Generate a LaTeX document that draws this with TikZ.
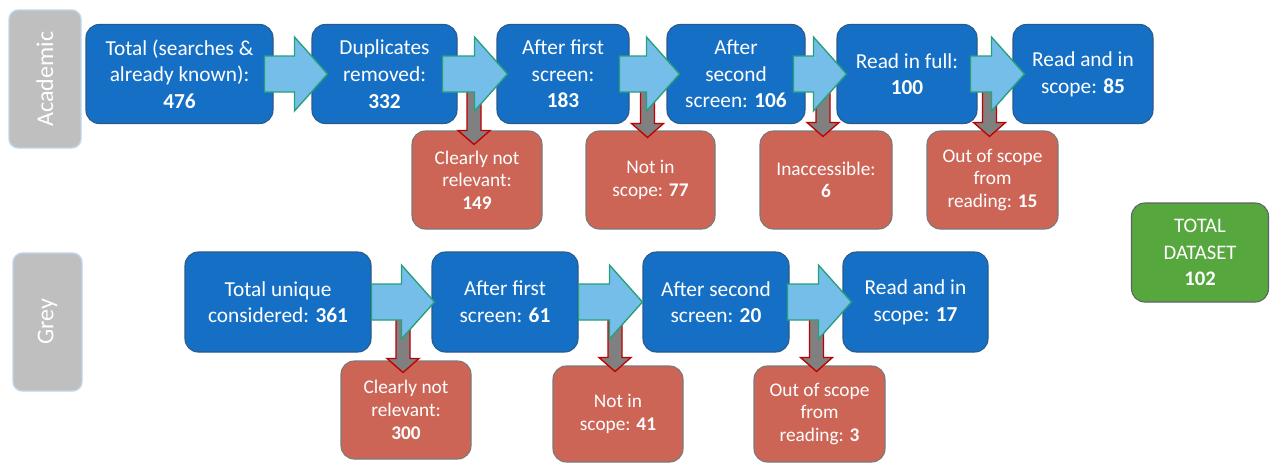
\documentclass[tikz,border=0pt]{standalone}
\usepackage{fontspec}
\setmainfont{Carlito}
\usepackage{xcolor}
\usepackage{tikz}
\usetikzlibrary{calc}
\definecolor{srblue}{HTML}{1570C5}
\definecolor{srnavy}{HTML}{2A5A8C}
\definecolor{srsky}{HTML}{75BEE9}
\definecolor{srteal}{HTML}{25A07A}
\definecolor{srred}{HTML}{CD6557}
\definecolor{srslate}{HTML}{7A7A7A}
\definecolor{srgray}{HTML}{808080}
\definecolor{srcrimson}{HTML}{C00000}
\definecolor{srgreen}{HTML}{56A73E}
\definecolor{srlabel}{HTML}{BFBFBF}
\definecolor{srpale}{HTML}{BDD7EE}
\tikzset{
  boxsize/.style 2 args={minimum width={#1*0.75pt},minimum height={#2*0.75pt}},
  stagebox/.style={rectangle,rounded corners=10pt,draw=srnavy,line width=0.8pt,
                   fill=srblue,text=white,align=center,inner sep=2pt,
                   font=\fontsize{16}{20}\selectfont},
  dropbox/.style={rectangle,rounded corners=10pt,draw=srslate,line width=0.8pt,
                  fill=srred,text=white,align=center,inner sep=2pt,
                  font=\fontsize{14.5}{17}\selectfont},
  totalbox/.style={rectangle,rounded corners=10pt,draw=srslate!80!black,line width=0.8pt,
                   fill=srgreen,text=white,align=center,inner sep=2pt,
                   font=\fontsize{15.5}{20}\selectfont},
  rowtag/.style={rectangle,rounded corners=7pt,draw=srpale,line width=1pt,
                 fill=srlabel,text=white,rotate=90,inner sep=2pt,
                 font=\fontsize{18}{20}\selectfont},
  passflow/.style={fill=srsky,draw=srteal,line width=1pt},
  dropflow/.style={fill=srgray,draw=srcrimson,line width=1pt},
}
% block arrow: from box, to box, shaft inset, tip overlap
\newcommand{\passarrow}[4]{%
  \coordinate (pass-s) at ($(#1.east)+(-#3,0)$);
  \coordinate (pass-t) at ($(#2.west)+(#4,0)$);
  \path[passflow] ($(pass-s)+(0,-18)$) -- ($(pass-t)+(-33,-18)$) -- ($(pass-t)+(-33,-37)$)
    -- (pass-t) -- ($(pass-t)+(-33,37)$) -- ($(pass-t)+(-33,18)$) -- ($(pass-s)+(0,18)$) -- cycle;}
% drop arrow: row box, excluded box, tip overlap
\newcommand{\droparrow}[3]{%
  \coordinate (drop-t) at ($(#2.north)+(-3,#3)$);
  \coordinate (drop-s) at ($(#2.north |- #1.east)+(-3,0)$);
  \path[dropflow] ($(drop-s)+(-7,0)$) -- ($(drop-t)+(-7,-14)$) -- ($(drop-t)+(-16,-14)$)
    -- (drop-t) -- ($(drop-t)+(16,-14)$) -- ($(drop-t)+(7,-14)$) -- ($(drop-s)+(7,0)$) -- cycle;}

\begin{document}
\begin{tikzpicture}[x=0.75pt,y=-0.75pt]
  \fill[white] (0,0) rectangle (1276,462);
  \useasboundingbox (0,0) rectangle (1276,462);
  % row tags
  \node[rowtag,boxsize={138}{72}] (acad) at (45,79) {Academic};
  \node[rowtag,boxsize={138}{69}] (grey) at (47.5,322) {Grey};
  % academic stages
  \node[stagebox,boxsize={187}{99}] (a1) at (179.5,74) {Total (searches \&\\already known):\\\textbf{476}};
  \node[stagebox,boxsize={145}{99}] (a2) at (384.5,74) {Duplicates\\removed:\\\textbf{332}};
  \node[stagebox,boxsize={132}{99}] (a3) at (563,74) {After first\\screen:\\\textbf{183}};
  \node[stagebox,boxsize={138}{99}] (a4) at (736,74) {After\\second\\screen: \textbf{106}};
  \node[stagebox,boxsize={140}{99}] (a5) at (907,74) {Read in full:\\\textbf{100}};
  \node[stagebox,boxsize={140}{99}] (a6) at (1083,74) {Read and in\\scope: \textbf{85}};
  % academic exclusions
  \node[dropbox,boxsize={130}{98}] (c1) at (477,180) {Clearly not\\relevant:\\\textbf{149}};
  \node[dropbox,boxsize={129}{98}] (c2) at (650.5,180) {Not in\\scope: \textbf{77}};
  \node[dropbox,boxsize={132}{98}] (c3) at (826,180) {Inaccessible:\\\textbf{6}};
  \node[dropbox,boxsize={131}{98}] (c4) at (992.5,180) {Out of scope\\from\\reading: \textbf{15}};
  % grey stages
  \node[stagebox,boxsize={186}{100}] (g1) at (278,302) {Total unique\\considered: \textbf{361}};
  \node[stagebox,boxsize={146}{100}] (g2) at (505,302) {After first\\screen: \textbf{61}};
  \node[stagebox,boxsize={146}{100}] (g3) at (716,302) {After second\\screen: \textbf{20}};
  \node[stagebox,boxsize={145}{100}] (g4) at (915.5,302) {Read and in\\scope: \textbf{17}};
  % grey exclusions
  \node[dropbox,boxsize={130}{98}] (r1) at (406,410) {Clearly not\\relevant:\\\textbf{300}};
  \node[dropbox,boxsize={130}{96}] (r2) at (618,414) {Not in\\scope: \textbf{41}};
  \node[dropbox,boxsize={131}{96}] (r3) at (819.5,414) {Out of scope\\from\\reading: \textbf{3}};
  % total
  \node[totalbox,boxsize={137}{99}] (total) at (1200,252.5) {TOTAL\\DATASET\\\textbf{102}};
  % arrows
  \foreach \row/\out/\ov in {a2/c1/14, a3/c2/7, a4/c3/6, a5/c4/6, g1/r1/12, g2/r2/6, g3/r3/6}
    \droparrow{\row}{\out}{\ov};
  \foreach \a/\b/\i/\o in {a1/a2/9/16, a2/a3/15/11, a3/a4/10/13, a4/a5/12/10, a5/a6/7/12,
                           g1/g2/0/3, g2/g3/0/0, g3/g4/2/9}
    \passarrow{\a}{\b}{\i}{\o};
\end{tikzpicture}
\end{document}
